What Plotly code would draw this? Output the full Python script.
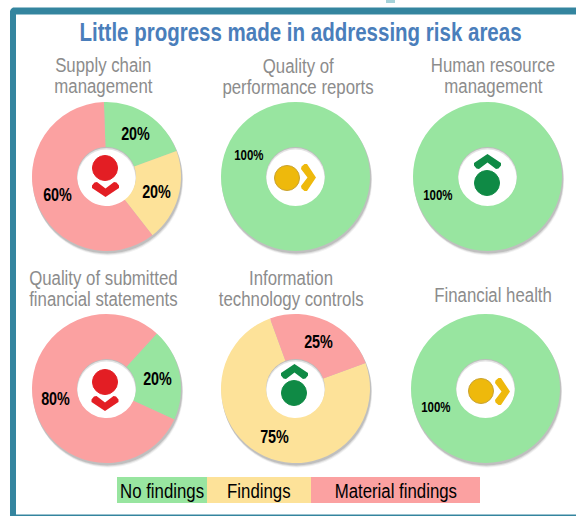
import plotly.graph_objects as go

W, H = 576, 516

# share of entities per risk area, in percent
no_findings = [20, 100, 100, 20, 0, 100]
findings = [20, 0, 0, 0, 75, 0]
material_findings = [60, 0, 0, 80, 25, 0]

area_titles = [
    ["Supply chain", "management"],
    ["Quality of", "performance reports"],
    ["Human resource", "management"],
    ["Quality of submitted", "financial statements"],
    ["Information", "technology controls"],
    ["Financial health"],
]
trends = ["down", "flat", "up", "down", "up", "flat"]
legend_labels = ["No findings", "Findings", "Material findings"]
chart_title = "Little progress made in addressing risk areas"

GREEN = "#98e5a0"
YELLOW = "#fde299"
RED = "#fba1a1"
TEAL = "#34859f"
FONT = "Liberation Sans, Arial, sans-serif"

# layout, in page pixels
centers = [(106.5, 176.5), (295.5, 176.5), (487.5, 176.5), (106.5, 388.5), (295.5, 388.5), (485.5, 388.5)]
radius = 74.5
hole_radius = 29.5
rotations = [-2, 0, 0, 42.5, 70, 0]
title_spots = [(103, [65, 86]), (298, [66, 87]), (493, [65, 86]), (103, [278, 299]), (291, [278, 299]), (493, [295])]
# one (x, y) per non zero value: no findings, findings, material findings
label_spots = [
    [(135, 134), (156, 192), (57, 195)],
    [(249, 155)],
    [(438, 195)],
    [(157, 379), (55, 399)],
    [(274, 437), (318, 342)],
    [(436, 407)],
]
icon_spots = [
    {"circle": (105, 168), "chevron": (105.5, 182), "color": "#e31e24", "edge": "#e31e24"},
    {"circle": (287, 178), "chevron": (301, 177.5), "color": "#eeb90c", "edge": "#c9a230"},
    {"circle": (487, 183), "chevron": (487.5, 154), "color": "#0f8a45", "edge": "#0f8a45"},
    {"circle": (105, 382), "chevron": (105, 396), "color": "#e31e24", "edge": "#e31e24"},
    {"circle": (294, 393), "chevron": (294.5, 364), "color": "#0f8a45", "edge": "#0f8a45"},
    {"circle": (481, 391), "chevron": (495, 391.5), "color": "#eeb90c", "edge": "#c9a230"},
]
legend_spots = [(117, 207), (207, 311), (311, 480)]
legend_colors = [GREEN, YELLOW, RED]

# chevron outline around its own axis, tip at v=15
CHEVRON = [(-13.5, 3.5), (-11, 0.5), (-8.5, 0), (0, 6.5), (8.5, 0), (11, 0.5), (13.5, 3.5), (13.5, 6), (0, 15), (-13.5, 6)]

# source uses a condensed face, so squeeze the regular one once it is drawn
CONDENSE = """
document.body.style.margin = '0';
document.querySelectorAll('.annotation-text').forEach(function (t) {
    var squeeze = parseFloat(t.style.fontSize) === 20 ? 0.84 : 0.82;
    t.setAttribute('lengthAdjust', 'spacingAndGlyphs');
    t.setAttribute('textLength', t.getComputedTextLength() * squeeze);
});
"""


def px(x):
    return x / W


def py(y):
    return 1 - y / H


def path(points):
    return "M" + " L".join(f"{px(x):.5f},{py(y):.5f}" for x, y in points) + " Z"


def disc(cx, cy, r, color, layer="below", edge=None):
    return dict(
        type="circle", xref="paper", yref="paper", layer=layer,
        x0=px(cx - r), x1=px(cx + r), y0=py(cy + r), y1=py(cy - r),
        fillcolor=color, line=dict(color=edge or color, width=1 if edge else 0),
    )


def chevron(x, y, trend):
    if trend == "down":
        return [(x + u, y + v) for u, v in CHEVRON]
    if trend == "up":
        return [(x + u, y + 15 - v) for u, v in CHEVRON]
    return [(x + v, y + u) for u, v in CHEVRON]


def box(x0, x1, y0, y1, color):
    return dict(type="rect", xref="paper", yref="paper", layer="below", fillcolor=color, line=dict(width=0),
                x0=px(x0), x1=px(x1), y0=py(y1), y1=py(y0))


def label(text, x, y, size, color):
    return dict(text=text, x=px(x), y=py(y), xref="paper", yref="paper", showarrow=False,
                xanchor="center", yanchor="middle", font=dict(family=FONT, size=size, color=color))


shapes = []
annotations = []

# frame
shapes.append(dict(type="path", xref="paper", yref="paper", layer="below", fillcolor=TEAL, line=dict(width=0),
                   path=path([(10, 11), (11, 9), (13, 7.5), (W, 7.5), (W, 516), (10, 516)])))
shapes.append(box(16, W, 14.5, 514.5, "white"))
shapes.append(box(386, 395, 0, 3, "#a5d2d9"))

fig = go.Figure()
for i, (cx, cy) in enumerate(centers):
    # soft drop shadow sits below the ring, the white hole hides it in the middle
    for off, grow, tone in [(4, 0.5, 0.08), (3, 0.5, 0.14), (2, 0.5, 0.22)]:
        shapes.append(disc(cx + off * 0.4, cy + off, radius + grow, f"rgba(90,90,90,{tone})"))
    shapes.append(disc(cx, cy, hole_radius + 0.5, "#bdbdbd"))
    shapes.append(disc(cx, cy + 1, hole_radius, "#e4e4e4"))
    shapes.append(disc(cx, cy + 2, hole_radius - 0.5, "white"))

    fig.add_trace(go.Pie(
        labels=legend_labels,
        values=[no_findings[i], findings[i], material_findings[i]],
        marker=dict(colors=legend_colors, line=dict(width=0)),
        hole=hole_radius / radius,
        sort=False,
        direction="clockwise",
        rotation=rotations[i],
        textinfo="none",
        showlegend=False,
        domain=dict(x=[px(cx - radius), px(cx + radius)], y=[py(cy + radius), py(cy - radius)]),
    ))

    icon = icon_spots[i]
    shapes.append(disc(*icon["circle"], 12.5, icon["color"], layer="above", edge=icon["edge"]))
    shapes.append(dict(type="path", xref="paper", yref="paper", layer="above", fillcolor=icon["color"],
                       line=dict(width=0), path=path(chevron(*icon["chevron"], trends[i]))))

    x, ys = title_spots[i]
    for line, y in zip(area_titles[i], ys):
        annotations.append(label(line, x, y, 20, "#8c8c8c"))

    shown = [v for v in (no_findings[i], findings[i], material_findings[i]) if v > 0]
    for v, (x, y) in zip(shown, label_spots[i]):
        annotations.append(label(f"<b>{v}%</b>", x, y, 14 if v == 100 else 17.5, "black"))

# legend strip
for text, (x0, x1), color in zip(legend_labels, legend_spots, legend_colors):
    shapes.append(box(x0, x1, 477, 503, color))
    annotations.append(label(text, (x0 + x1) / 2, 491, 20, "black"))

annotations.append(label(f"<b>{chart_title}</b>", 300.5, 32, 25, "#4a7ebb"))

fig.update_layout(
    width=W,
    height=H,
    margin=dict(l=0, r=0, t=0, b=0),
    paper_bgcolor="white",
    shapes=shapes,
    annotations=annotations,
)

fig.write_html("out.html", post_script=CONDENSE, config={"displayModeBar": False})
